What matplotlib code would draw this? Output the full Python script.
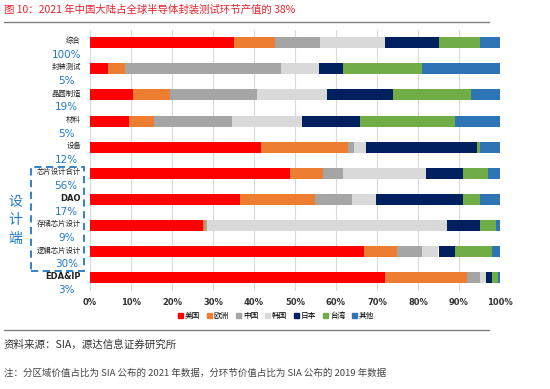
import matplotlib
matplotlib.use("Agg")
import matplotlib.pyplot as plt
import matplotlib.patches as mpatches
import matplotlib.transforms as mtransforms
import numpy as np

plt.rcParams['font.family'] = ['Noto Sans CJK SC', 'DejaVu Sans']

categories = ['综合', '封装测试', '晶圆制造', '材料', '设备',
              '芯片设计合计', 'DAO', '存储芯片设计', '逻辑芯片设计', 'EDA&IP']
shares = ['100%', '5%', '19%', '5%', '12%', '56%', '17%', '9%', '30%', '3%']
regions = ['美国', '欧洲', '中国', '韩国', '日本', '台湾', '其他']
colors = ['#FF0000', '#ED7D31', '#A5A5A5', '#D9D9D9', '#002060', '#70AD47', '#2E75B6']

# share of each region per segment (%)
us = [35, 4.4, 10.5, 9.5, 41.7, 48.8, 36.6, 27.6, 66.8, 72]
eu = [10, 4.1, 9.1, 6, 21.2, 8, 18.3, 0.4, 8.1, 20]
cn = [11, 38.2, 21.1, 19.1, 1.5, 5, 9, 0.5, 6.1, 3]
kr = [16, 9.1, 17.1, 17.2, 3, 20.1, 5.9, 58.5, 4, 1.5]
jp = [13, 5.9, 16.2, 14.1, 27.1, 9.1, 21.2, 8, 4, 1.5]
tw = [10, 19.2, 19, 23.1, 0.5, 6, 4, 4, 9, 1.5]
other = [5, 19, 7, 11, 5, 3, 5, 1, 2, 0.5]
series = [us, eu, cn, kr, jp, tw, other]

W, H = 550, 389
fig = plt.figure(figsize=(W / 100, H / 100), dpi=100)
ax = fig.add_axes([90 / W, 1 - 291 / H, 410 / W, 261 / H])

y = np.arange(len(categories))
left = np.zeros(len(categories))
for vals, c, name in zip(series, colors, regions):
    ax.barh(y, vals, left=left, height=0.42, color=c, label=name, zorder=3)
    left += np.array(vals)

ax.set_xlim(0, 100)
ax.set_ylim(9.5, -0.48)
ax.set_xticks(np.arange(0, 101, 10))
ax.set_xticklabels([f'{v}%' for v in range(0, 101, 10)], fontsize=6,
                   fontweight='bold', color='#333333', family='DejaVu Sans')
ax.set_yticks([])
ax.tick_params(axis='x', length=0, pad=5)
ax.grid(axis='x', color='#D9D9D9', lw=0.8, zorder=0)
for s in ax.spines.values():
    s.set_visible(False)

trans = mtransforms.blended_transform_factory(ax.transAxes, ax.transData)
for i, (cat, sh) in enumerate(zip(categories, shares)):
    if cat.isascii():
        ax.text(-0.022, i - 0.05, cat, transform=trans, ha='right', va='center',
                fontsize=6, fontweight='bold', family='DejaVu Sans', color='#222222')
    else:
        ax.text(-0.022, i - 0.05, cat, transform=trans, ha='right', va='center',
                fontsize=5.3, color='#222222')
    ax.text(-0.058, i + 0.48, sh, transform=trans, ha='center', va='center',
            fontsize=7.5, color='#1F78C8', family='DejaVu Sans')

# dashed box around the design segments
box = mpatches.Rectangle((31 / W, 1 - 271 / H), 53 / W, 104 / H, transform=fig.transFigure,
                         fill=False, edgecolor='#1F78C8', lw=1.3, ls=(0, (4, 2.5)))
fig.patches.append(box)
fig.text(15 / W, 1 - 220 / H, '设\n计\n端', ha='center', va='center', fontsize=10,
         color='#1F78C8', linespacing=1.45)

handles = [mpatches.Patch(color=c, label=r) for c, r in zip(colors, regions)]
fig.legend(handles=handles, loc='center', bbox_to_anchor=(276 / W, 1 - 316 / H), ncol=7,
           frameon=False, fontsize=5.5, handlelength=0.6, handleheight=0.6,
           handletextpad=0.3, columnspacing=0.9)

fig.text(4 / W, 1 - 10 / H, '图 10：2021 年中国大陆占全球半导体封装测试环节产值的 38%',
         ha='left', va='center', fontsize=7.5, color='#E8212B')
fig.add_artist(plt.Line2D([4 / W, 489 / W], [1 - 22 / H, 1 - 22 / H], color='#808080', lw=1))
fig.add_artist(plt.Line2D([4 / W, 489 / W], [1 - 330 / H, 1 - 330 / H], color='#808080', lw=1))
fig.text(4 / W, 1 - 345 / H, '资料来源：SIA，源达信息证券研究所', ha='left', va='center',
         fontsize=7.6, color='#333333')
fig.text(4 / W, 1 - 373 / H, '注：分区域价值占比为 SIA 公布的 2021 年数据，分环节价值占比为 SIA 公布的 2019 年数据',
         ha='left', va='center', fontsize=6.8, color='#444444', style='italic')

fig.savefig('out.png', dpi=100)
